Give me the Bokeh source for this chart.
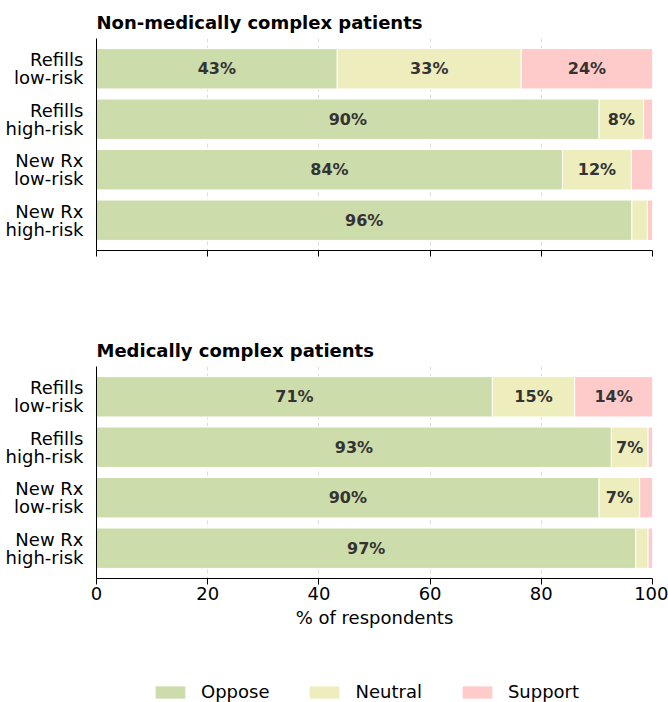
from bokeh.plotting import figure
from bokeh.models import ColumnDataSource, Range1d, FixedTicker, Legend, LegendItem
from bokeh.layouts import column
from bokeh.core.properties import value
from bokeh.embed import file_html
from bokeh.resources import INLINE

categories = ["Refills\nlow-risk", "Refills\nhigh-risk", "New Rx\nlow-risk", "New Rx\nhigh-risk"]
series = ["Oppose", "Neutral", "Support"]
colors = ["#cddcab", "#eeedbd", "#ffcaca"]

nonmed_oppose = [43.3, 90.4, 83.8, 96.3]
nonmed_neutral = [33.1, 8.0, 12.4, 2.8]
nonmed_support = [23.6, 1.6, 3.8, 0.9]

med_oppose = [71.2, 92.6, 90.4, 97.0]
med_neutral = [14.8, 6.6, 7.3, 2.2]
med_support = [14.0, 0.8, 2.3, 0.8]

titles = ["Non-medically complex patients", "Medically complex patients"]
xticks = [0, 20, 40, 60, 80, 100]

FONT = "DejaVu Sans"


def make_panel(title, vals, height, top, bottom, show_xlabels):
    p = figure(width=668, height=height, output_backend="svg", toolbar_location=None,
               x_range=Range1d(0, 100), y_range=Range1d(3.6, -0.6),
               min_border_left=96, min_border_right=16,
               min_border_top=top, min_border_bottom=bottom, title=title)
    p.title.text_font = FONT
    p.title.text_font_size = "18px"
    p.title.text_font_style = "bold"
    p.title.text_color = "black"
    p.title.align = "left"
    p.title.offset = 0
    p.title.standoff = 12
    p.outline_line_color = None
    ys = list(range(len(categories)))
    lefts = [0.0] * len(categories)
    for s, col, v in zip(series, colors, vals):
        rights = [l + x for l, x in zip(lefts, v)]
        src = ColumnDataSource(dict(y=ys, left=lefts, right=rights))
        p.hbar(y="y", left="left", right="right", height=0.8, source=src,
               fill_color=col, line_color="white", line_width=1)
        keep = [i for i, x in enumerate(v) if x >= 5]
        tsrc = ColumnDataSource(dict(
            x=[(lefts[i] + rights[i]) / 2 for i in keep],
            y=[ys[i] for i in keep],
            t=[f"{round(v[i])}%" for i in keep]))
        p.text(x="x", y="y", text="t", source=tsrc, text_align="center",
               text_baseline="middle", text_font=value(FONT), text_font_style="bold",
               text_font_size="16px", text_color="#333333")
        lefts = rights
    p.yaxis.ticker = FixedTicker(ticks=ys)
    p.yaxis.major_label_overrides = {i: c for i, c in enumerate(categories)}
    p.yaxis.major_tick_line_color = None
    p.yaxis.minor_tick_line_color = None
    p.yaxis.major_label_text_font = FONT
    p.yaxis.major_label_text_font_size = "18px"
    p.yaxis.major_label_text_color = "black"
    p.yaxis.major_label_text_line_height = 0.85
    p.yaxis.major_label_standoff = 7
    p.yaxis.axis_line_color = "black"
    p.xaxis.ticker = FixedTicker(ticks=xticks)
    p.xaxis.minor_tick_line_color = None
    p.xaxis.major_tick_in = 0
    p.xaxis.major_tick_out = 6
    p.xaxis.axis_line_color = "black"
    p.xaxis.major_label_text_font = FONT
    p.xaxis.major_label_text_font_size = "18px"
    p.xaxis.major_label_text_color = "black"
    p.xaxis.major_label_standoff = 2
    if not show_xlabels:
        p.xaxis.major_label_overrides = {t: "" for t in xticks}
    else:
        p.xaxis.axis_label = "% of respondents"
        p.xaxis.axis_label_text_font = FONT
        p.xaxis.axis_label_text_font_size = "18px"
        p.xaxis.axis_label_text_font_style = "normal"
        p.xaxis.axis_label_text_color = "black"
        p.xaxis.axis_label_standoff = 4
    p.ygrid.visible = False
    p.xgrid.ticker = FixedTicker(ticks=xticks)
    p.xgrid.grid_line_color = "#dddddd"
    p.xgrid.grid_line_dash = "4 3"
    return p


p1 = make_panel(titles[0], [nonmed_oppose, nonmed_neutral, nonmed_support], 300, 38, 50, False)
p2 = make_panel(titles[1], [med_oppose, med_neutral, med_support], 340, 66, 62, True)

# legend strip (renderers carry no drawable data, only their style for the swatches)
p3 = figure(width=668, height=62, output_backend="svg", toolbar_location=None,
            x_range=Range1d(0, 1), y_range=Range1d(0, 1),
            x_axis_location=None, y_axis_location=None,
            min_border_left=96, min_border_right=16, min_border_top=0, min_border_bottom=0)
p3.outline_line_color = None
p3.xgrid.visible = False
p3.ygrid.visible = False
nan = float("nan")
items = []
for s, col in zip(series, colors):
    r = p3.hbar(y="y", left="left", right="right", height=0.8,
                source=ColumnDataSource(dict(y=[nan], left=[nan], right=[nan])),
                fill_color=col, line_color=col, line_width=1)
    items.append(LegendItem(label=s, renderers=[r]))
legend = Legend(items=items, orientation="horizontal", location=(56, 0),
                glyph_width=36, glyph_height=14, label_standoff=13, spacing=37,
                padding=0, margin=0,
                label_text_font=FONT, label_text_font_size="18px", label_text_color="black",
                border_line_color=None, background_fill_alpha=0)
p3.add_layout(legend, "center")

layout = column(p1, p2, p3, spacing=0)
open("out.html", "w").write(file_html(layout, INLINE))
